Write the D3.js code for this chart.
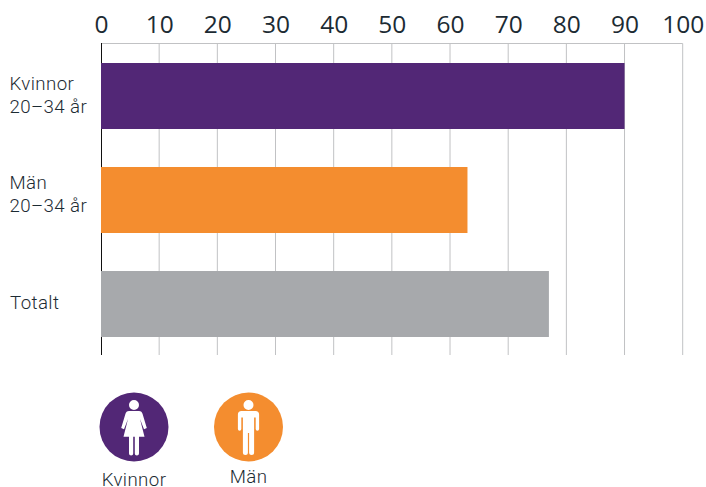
<!DOCTYPE html>
<html><head><meta charset="utf-8">
<script src="https://cdn.jsdelivr.net/npm/d3@7"></script>
<style>html,body{margin:0;padding:0;background:#fff}svg{display:block}</style>
</head><body><svg id="c" width="706" height="487"></svg>
<script>
const categories = ["Kvinnor|20–34 år", "Män|20–34 år", "Totalt"];
const values = [90, 63, 77];
const barColors = ["#522776", "#f48d2f", "#a7a9ac"];
const tickValues = [0,10,20,30,40,50,60,70,80,90,100];
const legendLabels = ["Kvinnor", "Män"];
const legendColors = ["#522776", "#f48d2f"];

const svg = d3.select("#c");
const textCol = "#1c2b33";
const labelFont = "Roboto";
const x = d3.scaleLinear().domain([0,100]).range([101,682.7]);
const y = d3.scaleBand().domain(categories).range([44,356]).paddingInner(0.3654).paddingOuter(0.1827);

const axis = d3.axisTop(x).tickValues(tickValues).tickSize(0).tickPadding(0).tickFormat(d3.format("d"));
const gAxis = svg.append("g").attr("transform","translate(0,33)").call(axis);
gAxis.select(".domain").remove();
gAxis.selectAll("text").attr("font-family","'Open Sans'").attr("font-size",24.5).attr("fill",textCol).attr("dy",0);

svg.append("line").attr("x1",x(0)).attr("x2",x(100)).attr("y1",43.5).attr("y2",43.5).attr("stroke","#c1c2c4").attr("stroke-width",1);
svg.selectAll(".grid").data(tickValues.slice(1)).join("line").attr("class","grid")
  .attr("x1",d=>x(d)).attr("x2",d=>x(d)).attr("y1",43.5).attr("y2",355).attr("stroke","#c1c2c4").attr("stroke-width",1);
svg.append("line").attr("x1",x(0)+.5).attr("x2",x(0)+.5).attr("y1",43).attr("y2",355).attr("stroke","#111").attr("stroke-width",1);

svg.selectAll(".bar").data(categories).join("rect").attr("class","bar")
  .attr("x",x(0)).attr("y",d=>y(d)).attr("width",(d,i)=>x(values[i])-x(0)).attr("height",y.bandwidth())
  .attr("fill",(d,i)=>barColors[i]);

// category labels: baseline offsets from each band's middle, per label
const labelOffsets = [[-6,17],[-11,12],[5]];
categories.forEach((c,i)=>{
  const lines=c.split("|");
  const mid=y(c)+y.bandwidth()/2;
  lines.forEach((l,j)=>{
    svg.append("text").attr("x",lines.length>1?9.5:10).attr("y",mid+labelOffsets[i][j])
      .attr("font-family",labelFont).attr("font-weight",300).attr("font-size",18.7).attr("letter-spacing",0.4).attr("fill",textCol).text(l);
  });
});

// legend
const legendX = d3.scaleOrdinal().domain(legendLabels).range([134,248.5]);
const legendLabelY = [485.5,483];
const female="M0,-27a5,5 0 1 1 0,10a5,5 0 1 1 0,-10Z M-5,-16H5C7,-16 8,-15 8.6,-13L12.8,1L10,2.2L6,-8L10.5,9.7H5V26.5a2,2 0 0 1 -4.2,0V9.7H-.8V26.5a2,2 0 0 1 -4.2,0V9.7H-10.5L-6,-8L-10,2.2L-12.8,1L-8.6,-13C-8,-15 -7,-16 -5,-16Z";
const male="M0,-27a5,5 0 1 1 0,10a5,5 0 1 1 0,-10Z M-7,-16H7C9.3,-16 10.6,-14.5 10.6,-12.5V2a1.7,1.7 0 0 1 -3.4,0V-9.5L5.6,-9.5V25.5a2.5,2.5 0 0 1 -5,0V6H-.6V25.5a2.5,2.5 0 0 1 -5,0V-9.5L-7.2,-9.5V2a1.7,1.7 0 0 1 -3.4,0V-12.5C-10.6,-14.5 -9.3,-16 -7,-16Z";
legendLabels.forEach((l,i)=>{
  const g=svg.append("g").attr("transform",`translate(${legendX(l)},427)`);
  g.append("circle").attr("r",34.5).attr("fill",legendColors[i]);
  g.append("path").attr("d",i===0?female:male).attr("fill","#fff");
  svg.append("text").attr("x",legendX(l)).attr("y",legendLabelY[i]).attr("text-anchor","middle")
    .attr("font-family",labelFont).attr("font-weight",300).attr("font-size",18.7).attr("letter-spacing",0.4).attr("fill",textCol).text(l);
});
</script></body></html>
